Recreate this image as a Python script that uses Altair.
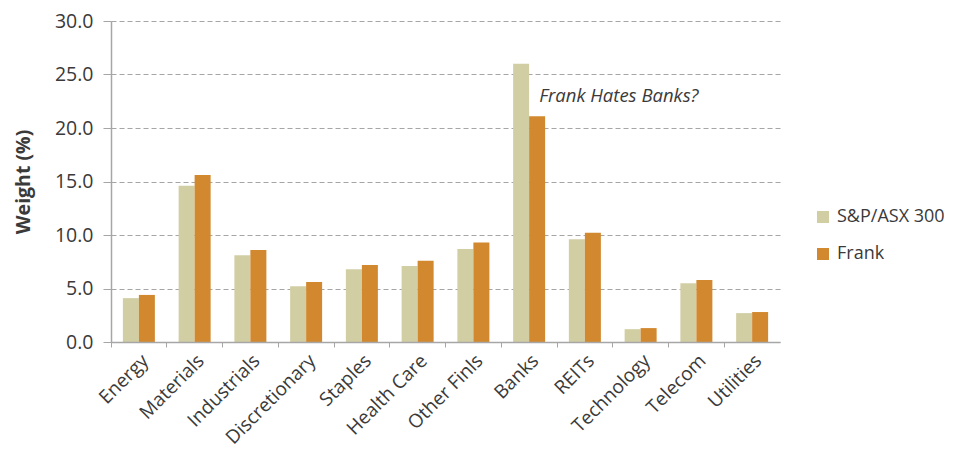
import altair as alt
import pandas as pd

categories = ["Energy", "Materials", "Industrials", "Discretionary", "Staples",
              "Health Care", "Other Finls", "Banks", "REITs", "Technology",
              "Telecom", "Utilities"]
sp_asx300 = [4.1, 14.6, 8.1, 5.2, 6.8, 7.1, 8.7, 26.0, 9.6, 1.2, 5.5, 2.7]
frank = [4.4, 15.6, 8.6, 5.6, 7.2, 7.6, 9.3, 21.1, 10.2, 1.3, 5.8, 2.8]
series_names = ["S&P/ASX 300", "Frank"]
series_colors = ["#D2CEA4", "#D2882F"]
y_ticks = [0, 5, 10, 15, 20, 25, 30]

annot_cat = ["Banks"]
annot_val = [22.95]
annot_text = ["Frank Hates Banks?"]

rows = []
for c, a, b in zip(categories, sp_asx300, frank):
    rows.append({"Sector": c, "Series": series_names[0], "Weight": a})
    rows.append({"Sector": c, "Series": series_names[1], "Weight": b})
df = pd.DataFrame(rows)
ann = pd.DataFrame({"Sector": annot_cat, "Weight": annot_val, "label": annot_text})

FONT = "Open Sans"
TXT = "#3a3a3a"
GRID = "#a6a6a6"

x_enc = alt.X("Sector:N", sort=categories, title=None,
              scale=alt.Scale(domain=categories, paddingInner=0, paddingOuter=0),
              axis=alt.Axis(labelAngle=-45, labelFont=FONT, labelFontSize=19,
                            labelColor=TXT, domainColor=GRID, tickColor=GRID,
                            tickSize=5, bandPosition=0, labelPadding=4,
                            domainWidth=1.5, zindex=1, grid=False))

bars = alt.Chart(df).mark_bar().encode(
    x=x_enc,
    xOffset=alt.XOffset("Series:N", sort=series_names,
                        scale=alt.Scale(domain=series_names, paddingInner=0, paddingOuter=0.742)),
    y=alt.Y("Weight:Q", title="Weight (%)",
            scale=alt.Scale(domain=[0, 30], nice=False),
            axis=alt.Axis(values=y_ticks, format=".1f", labelFont=FONT,
                          labelFontSize=19.5, labelColor=TXT, titleFont=FONT,
                          titleFontSize=19.5, titleFontWeight="bold", titleColor=TXT,
                          titlePadding=21, domainColor=GRID, domainWidth=1.5,
                          tickColor=GRID, tickSize=8, labelPadding=10,
                          gridColor=GRID, gridDash=[5, 3], gridWidth=1)),
    color=alt.Color("Series:N", sort=series_names,
                    scale=alt.Scale(domain=series_names, range=series_colors),
                    legend=alt.Legend(title=None, orient="none", legendX=703, legendY=187,
                                      symbolType="square", symbolSize=144,
                                      symbolStrokeWidth=0, labelFont=FONT,
                                      labelFontSize=18, labelColor=TXT,
                                      rowPadding=19, padding=0, labelOffset=5,
                                      labelLimit=200)),
)

text = alt.Chart(ann).mark_text(align="left", baseline="middle", dx=10,
                                font=FONT, fontSize=18.5, fontStyle="italic",
                                color=TXT).encode(
    x=alt.X("Sector:N", sort=categories),
    y=alt.Y("Weight:Q"),
    text="label:N",
)

chart = alt.layer(bars, text).properties(
    width=669, height=321,
    autosize=alt.AutoSizeParams(type="none"),
    padding={"left": 103, "top": 13, "right": 164, "bottom": 110},
).configure_view(stroke=None)

chart.save("out.html", embed_options={"renderer": "svg", "actions": False})
